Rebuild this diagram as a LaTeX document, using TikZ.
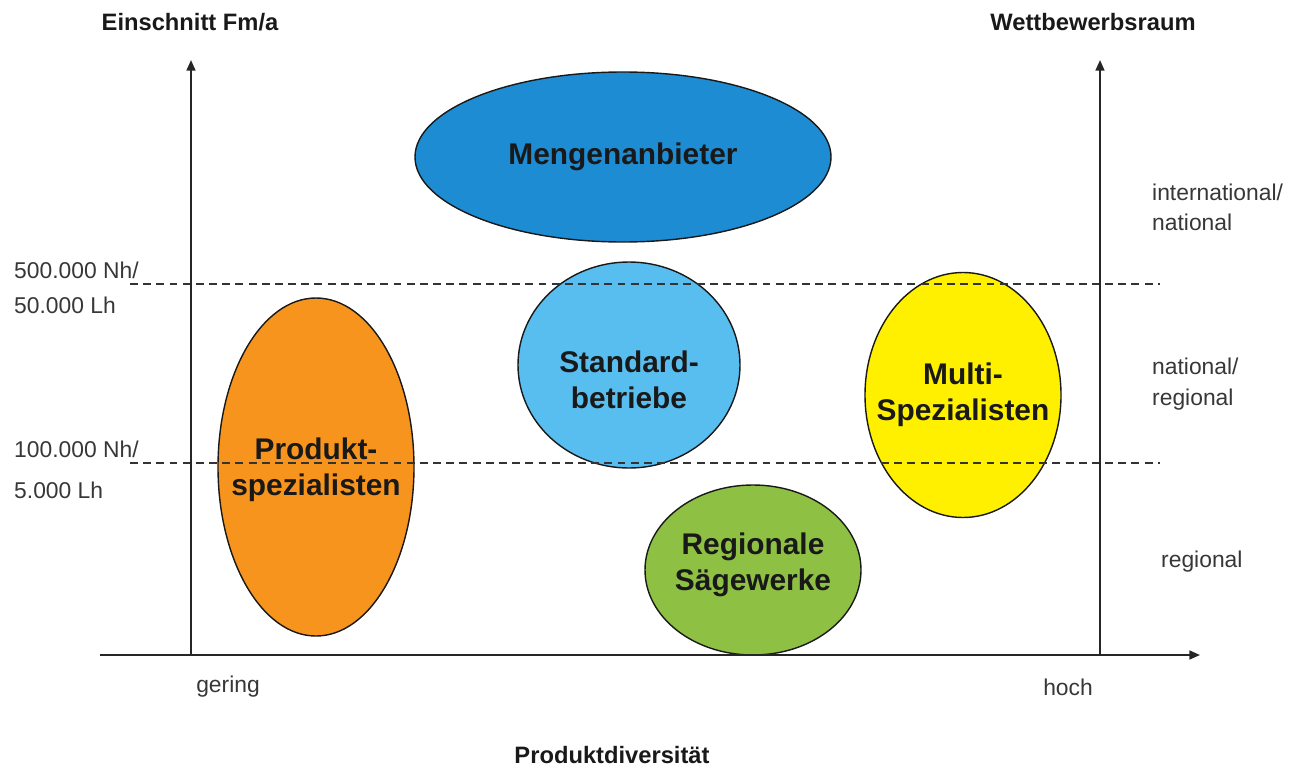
\documentclass[tikz,border=0pt]{standalone}
\usepackage{fontspec}
\setmainfont{Liberation Sans}
\usepackage{tikz}
\usetikzlibrary{shapes.geometric, arrows.meta, positioning}

\newcommand{\pxu}{0.02cm}

\definecolor{mengenblue}{RGB}{30,140,210}
\definecolor{standardblue}{RGB}{88,190,240}
\definecolor{prodorange}{RGB}{247,148,30}
\definecolor{multiyellow}{RGB}{255,240,0}
\definecolor{regiogreen}{RGB}{141,192,67}
\definecolor{labelgray}{RGB}{55,55,55}

\tikzset{
  blob/.style={ellipse, draw=black!90, line width=0.8pt, inner sep=0pt},
  blobtext/.style={align=center, font=\fontsize{17}{20.5}\selectfont\bfseries, text=black!90},
  axis/.style={draw=black!85, line width=1.1pt, -{Triangle[length=6pt,width=5pt]}},
  level/.style={draw=black!80, line width=0.8pt, dash pattern=on 4.5pt off 3pt},
  axistitle/.style={font=\fontsize{13.5}{16}\selectfont\bfseries, text=black!90},
  tick/.style={font=\fontsize{13}{16}\selectfont, text=labelgray, align=left},
}

\begin{document}
\begin{tikzpicture}[x=\pxu, y=-\pxu]
    \useasboundingbox (0,0) rectangle (1290,767);

    % groups of sawmills
    \node[blob, fill=mengenblue, minimum width=416*\pxu, minimum height=170*\pxu] (mengen) at (623,157) {};
    \node[blob, fill=standardblue, minimum width=222*\pxu, minimum height=206*\pxu] (standard) at (629,365) {};
    \node[blob, fill=prodorange, minimum width=196*\pxu, minimum height=338*\pxu] (prod) at (316,467) {};
    \node[blob, fill=multiyellow, minimum width=196*\pxu, minimum height=245*\pxu] (multi) at (963,395) {};
    \node[blob, fill=regiogreen, minimum width=216*\pxu, minimum height=170*\pxu] (regio) at (753,570) {};

    \node[blobtext] (mengentext) at (mengen) {Mengenanbieter};
    \node[blobtext, yshift=-15*\pxu] (standardtext) at (standard) {Standard-\\betriebe};
    \node[blobtext, yshift=-3*\pxu] (prodtext) at (prod) {Produkt-\\spezialisten};
    \node[blobtext] (multitext) at (multi) {Multi-\\Spezialisten};
    \node[blobtext, yshift=5*\pxu] (regiotext) at (regio) {Regionale\\Sägewerke};

    % axes and limits
    \coordinate (xstart) at (100,655);
    \coordinate (xend) at (1200,655);
    \coordinate (lbot) at (191,655);
    \coordinate (ltop) at (191,60);
    \coordinate (rbot) at (1100,655);
    \coordinate (rtop) at (1100,60);
    \coordinate (upperl) at (130,284);
    \coordinate (upperr) at (1160,284);
    \coordinate (lowerl) at (130,463);
    \coordinate (lowerr) at (1160,463);

    \draw[level] (upperl) -- (upperr);
    \draw[level] (lowerl) -- (lowerr);
    \draw[axis] (xstart) -- (xend);
    \draw[axis] (lbot) -- (ltop);
    \draw[axis] (rbot) -- (rtop);

    % labels
    \node[axistitle] (ytitle) at (190,22) {Einschnitt Fm/a};
    \node[axistitle] (rtitle) at (1093,22) {Wettbewerbsraum};
    \node[axistitle] (xtitle) at (612,755) {Produktdiversität};
    \node[tick] (gering) at (228,687) {gering};
    \node[tick] (hoch) at (1068,687) {hoch};

    \node[tick, anchor=west] (upperlab) at (8,288) {500.000 Nh/\\[4pt]50.000 Lh};
    \node[tick, anchor=west] (lowerlab) at (8,470) {100.000 Nh/\\[7pt]5.000 Lh};

    \node[tick, anchor=west] (intl) at (1146,207) {international/\\[1pt]national};
    \node[tick, anchor=west] (natl) at (1146,384) {national/\\[2pt]regional};
    \node[tick, anchor=west] (regl) at (1155,562) {regional};
\end{tikzpicture}
\end{document}
